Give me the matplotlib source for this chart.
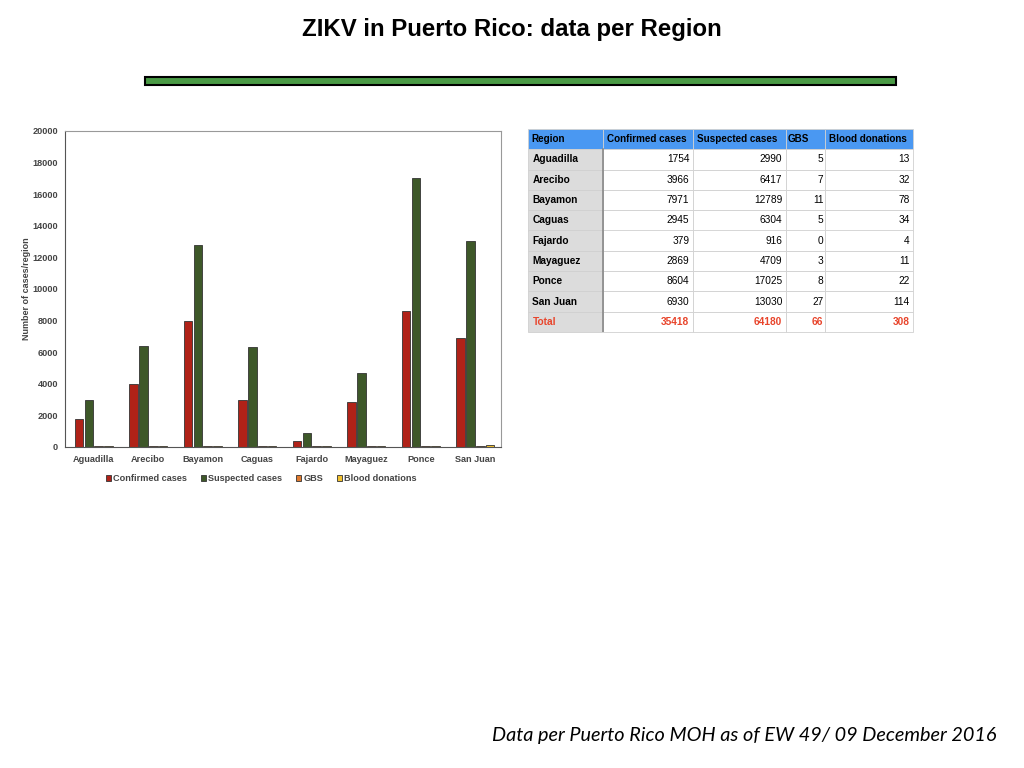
import matplotlib.pyplot as plt
import numpy as np
from matplotlib.patches import Rectangle

plt.rcParams['font.family'] = ['Liberation Sans', 'DejaVu Sans']

regions = ['Aguadilla', 'Arecibo', 'Bayamon', 'Caguas', 'Fajardo', 'Mayaguez', 'Ponce', 'San Juan']
confirmed = [1754, 3966, 7971, 2945, 379, 2869, 8604, 6930]
suspected = [2990, 6417, 12789, 6304, 916, 4709, 17025, 13030]
gbs = [5, 7, 11, 5, 0, 3, 8, 27]
blood = [13, 32, 78, 34, 4, 11, 22, 114]
series_names = ['Confirmed cases', 'Suspected cases', 'GBS', 'Blood donations']
series_colors = ['#b02218', '#3e5829', '#e07a2e', '#f2c12e']
col_labels = ['Region', 'Confirmed cases', 'Suspected cases', 'GBS', 'Blood donations']

fig = plt.figure(figsize=(10.24, 7.68), dpi=100)
fig.patch.set_facecolor('white')

fig.text(0.5, 0.961, 'ZIKV in Puerto Rico: data per Region', ha='center', va='center',
         fontsize=17.3, fontweight='bold')
fig.patches.append(Rectangle((145/1024, 1-85/768), 751/1024, 8/768, transform=fig.transFigure,
                             facecolor='#4a9a45', edgecolor='black', linewidth=1.5))
fig.text(997/1024, 1-735/768, 'Data per Puerto Rico MOH as of EW 49/ 09 December 2016',
         ha='right', va='center', fontsize=14.3, style='italic', family='Lato')

# bar chart
ax = fig.add_axes([65/1024, 1-447/768, 436/1024, 316/768])
x = np.arange(len(regions))
w = 0.18
all_series = [confirmed, suspected, gbs, blood]
for i, (vals, c, name) in enumerate(zip(all_series, series_colors, series_names)):
    h = np.array(vals, dtype=float)
    if i >= 2:
        h = np.maximum(h, 60)  # small series only show as slivers
    ax.bar(x + (i - 1.5) * w + 0.03, h, width=w * 0.88, color=c, edgecolor='#333333',
           linewidth=0.6, label=name)
ax.set_xlim(-0.5, len(regions) - 0.5)
ax.set_ylim(0, 20000)
ax.set_yticks(np.arange(0, 20001, 2000))
ax.set_xticks(x + 0.03)
ax.set_xticklabels(regions)
ax.tick_params(axis='x', length=0, labelsize=6.6, colors='#444444', pad=6)
ax.tick_params(axis='y', length=0, labelsize=6.6, colors='#444444', pad=5)
for lab in ax.get_xticklabels() + ax.get_yticklabels():
    lab.set_fontweight('bold')
ax.set_ylabel('Number of cases/region', fontsize=6.5, fontweight='bold', color='#444444', labelpad=1)
for side in ['left', 'bottom']:
    ax.spines[side].set_color('#555555')
for side in ['top', 'right']:
    ax.spines[side].set_color('#999999')
leg = ax.legend(loc='upper center', bbox_to_anchor=(0.45, -0.06), ncol=4, frameon=False,
                fontsize=6.6, handlelength=0.6, handleheight=0.6, handletextpad=0.2, columnspacing=1.5)
for t in leg.get_texts():
    t.set_color('#444444')
    t.set_fontweight('bold')

# table
tax = fig.add_axes([528/1024, 1-332/768, 385/1024, 203/768])
tax.axis('off')
cells = []
for r, a, b, c, d in zip(regions, confirmed, suspected, gbs, blood):
    cells.append([r, str(a), str(b), str(c), str(d)])
cells.append(['Total', str(sum(confirmed)), str(sum(suspected)), str(sum(gbs)), str(sum(blood))])
widths = np.array([75, 90, 93, 39, 88]) / 385
tbl = tax.table(cellText=cells, colLabels=col_labels, colWidths=widths, bbox=[0, 0, 1, 1])
tbl.auto_set_font_size(False)
nrows = len(cells) + 1
for (row, col), cell in tbl.get_celld().items():
    cell.set_edgecolor('#d0d0d0')
    cell.set_linewidth(0.6)
    txt = cell.get_text()
    txt.set_fontsize(7.3)
    if row == 0:
        cell.set_facecolor('#4a98f2')
        txt.set_fontweight('bold')
        txt.set_fontsize(7.1)
        txt.set_ha('left')
        cell.PAD = 0.04
    elif col == 0:
        cell.set_facecolor('#dcdcdc')
        txt.set_fontweight('bold')
        txt.set_ha('left')
        cell.PAD = 0.06
    else:
        cell.set_facecolor('white')
        txt.set_ha('right')
        cell.PAD = 0.04
    if row == nrows - 1:
        txt.set_color('#e8452c')
        txt.set_fontweight('bold')
# darker divider after the region column
tax.plot([75/385, 75/385], [0, 1 - 1/nrows], color='#888888', linewidth=1.2)
tax.set_xlim(0, 1)
tax.set_ylim(0, 1)

fig.savefig('out.png', dpi=100)
